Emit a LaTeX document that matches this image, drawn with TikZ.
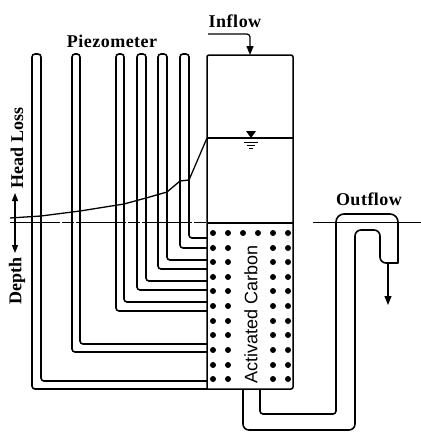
\documentclass[tikz,border=0pt]{standalone}
\usepackage{fontspec}
\setmainfont{Liberation Serif}
\setsansfont{Liberation Sans}
\usetikzlibrary{arrows.meta}
\tikzset{
  line/.style={line width=1.5pt,line join=round,black},
  pipe/.style={line/.try,line width=1.6pt,rounded corners=3pt},
  tip/.style={-{Triangle[length=9pt,width=7pt]}},
  smalltip/.style={-{Triangle[length=8pt,width=6pt]}},
  lab/.style={font=\bfseries\fontsize{18}{20}\selectfont,inner sep=0pt},
  grain/.style={circle,fill=black,inner sep=0pt,minimum size=6pt}
}
\begin{document}
\begin{tikzpicture}[x=1pt,y=-1pt]
\useasboundingbox (0,0) rectangle (421,432);
% tank
\draw[line] (207,389) -- (207,56) [rounded corners=2pt] -- (207,55) -- (293,55) -- (293,389) [sharp corners] -- cycle;
\draw[line] (207,138) -- (293,138);
\draw[line] (207,223) -- (293,223);
% water level
\fill (246,131) -- (256,131) -- (251,138) -- cycle;
\draw[line width=0.9pt] (244,142) -- (258,142) (247,145) -- (255,145) (249,148) -- (253,148);
% piezometers
\foreach \o/\i/\ob/\ib in {32/41/389/381,72/80/352/344,116/124/311/302,137/146/290/281,158/167/269/260,180/189/248/238}{
  \draw[pipe] (207,\ob) -- (\o,\ob) -- (\o,54) -- (\i,54) -- (\i,\ib) -- (207,\ib);
}
% datum
\draw[line,line width=1pt,dash pattern=on 50pt off 2pt on 12pt off 2pt] (10,222) -- (207,222);
\draw[line,line width=1pt] (313,222) -- (421,222);
% head-loss curve
\draw[line,line width=1.3pt] (10,218) -- (41,216) -- (80,211) -- (124,204) -- (146,198) -- (167,192) -- (180,181) -- (189,180) -- (207,138);
% axis
\coordinate (ax) at (15,222);
\draw[line,line width=1.1pt,smalltip] (ax) -- (15,193);
\draw[line,line width=1.1pt,smalltip] (ax) -- (15,253);
\node[lab,rotate=90] (hl) at (17,148) {Head Loss};
\node[lab,rotate=90] (dp) at (17,281) {Depth};
\node[lab] (pz) at (112,41) {P\kern.5pt i\kern.5pt e\kern.5pt z\kern.5pt o\kern.5pt m\kern.5pt e\kern.5pt t\kern.5pt e\kern.5pt r};
\node[lab] (in) at (235,21) {I\kern.5pt n\kern.5pt f\kern.5pt l\kern.5pt o\kern.5pt w};
\node[lab] (ou) at (369,199) {O\kern.5pt u\kern.5pt t\kern.5pt f\kern.5pt l\kern.5pt o\kern.5pt w};
% inflow
\coordinate (inS) at (208,34);
\draw[line,line width=1.2pt,tip,rounded corners=3pt] (inS) -- (250,34) -- (250,55);
% carbon
\foreach \x in {213,228,273,288}
  \foreach \y in {233,248,262,277,291,306,321,335,350,365,379}
    \node[grain] at (\x,\y) {};
\node[grain] at (243,233) {};
\node[grain] at (258,233) {};
\node[rotate=90,font=\sffamily\fontsize{18}{20}\selectfont,inner sep=0pt] (ac) at (251,314) {Activated Carbon};
% outlet
\draw[pipe,rounded corners=6pt] (243,389) -- (243,430) -- (355,430) -- (355,230) -- (380,230) -- (380,263) [sharp corners] -- (398,263) [rounded corners=8pt] -- (398,214) -- (336,214) [rounded corners=3pt] -- (336,414) -- (260,414) -- (260,389);
\coordinate (ot) at (388,263);
\draw[line,line width=1.2pt,tip] (ot) -- (388,305);
\end{tikzpicture}
\end{document}
